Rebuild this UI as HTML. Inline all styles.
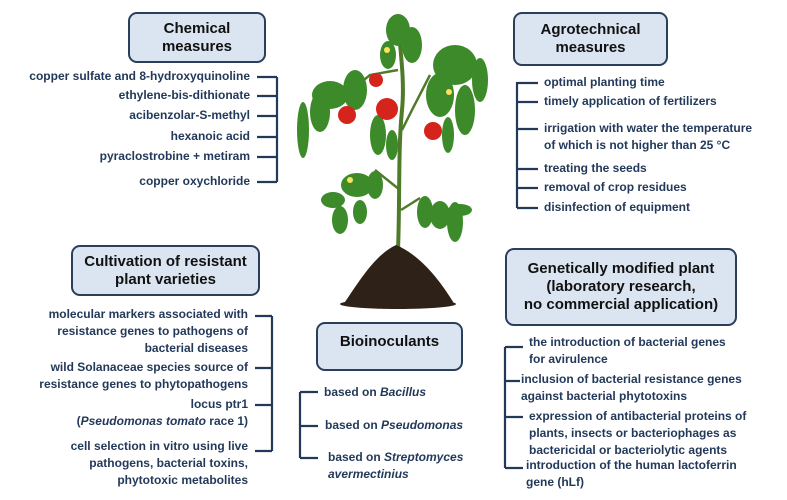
<!DOCTYPE html>
<html><head><meta charset="utf-8"><style>
body{margin:0;width:787px;height:500px;background:#fff;position:relative;overflow:hidden;font-family:"Liberation Sans",Arial,sans-serif}
.box{position:absolute;background:#dbe5f1;border:2px solid #2b3f5c;border-radius:9px;box-sizing:border-box;display:flex;align-items:center;justify-content:center;text-align:center;font-weight:bold;font-size:15px;line-height:18px;color:#111}
.t{position:absolute;font-weight:bold;font-size:12px;line-height:17px;color:#23395a;white-space:nowrap}
.r{text-align:right}
</style></head><body>
<svg width="787" height="500" style="position:absolute;left:0;top:0">
<g stroke="#23395a" stroke-width="2.2" fill="none">
<path d="M277 77V182M257 77H277M257 96H277M257 116H277M257 137H277M257 157H277M257 182H277"/>
<path d="M517 82V208M517 83H538M517 102H538M517 129H538M517 169H538M517 188H538M517 208H538"/>
<path d="M272 316V451M255 316H272M255 368H272M255 405H272M255 451H272"/>
<path d="M300 392V458M300 392H318M300 426H318M300 458H318"/>
<path d="M505 347V468M505 347H523M505 381H520M505 417H523M505 468H523"/>
</g>
<!-- plant -->
<g>
<path d="M398 250 C400 200 398 150 402 110 C405 80 400 50 398 20" stroke="#4e7a2a" stroke-width="4" fill="none"/>
<path d="M400 190 L375 170 M401 210 L420 198 M402 130 L412 110 L430 75 M398 70 L370 75 L345 95" stroke="#4e7a2a" stroke-width="2.5" fill="none"/>
<g fill="#3d8a2a">
<!-- top cluster -->
<ellipse cx="398" cy="30" rx="12" ry="16"/><ellipse cx="412" cy="45" rx="10" ry="18"/><ellipse cx="388" cy="55" rx="8" ry="14"/>
<!-- left cluster -->
<ellipse cx="330" cy="95" rx="18" ry="14"/><ellipse cx="355" cy="90" rx="12" ry="20"/><ellipse cx="303" cy="130" rx="6" ry="28"/>
<ellipse cx="320" cy="112" rx="10" ry="20"/>
<!-- right cluster -->
<ellipse cx="455" cy="65" rx="22" ry="20"/><ellipse cx="480" cy="80" rx="8" ry="22"/><ellipse cx="440" cy="95" rx="14" ry="22"/>
<ellipse cx="465" cy="110" rx="10" ry="25"/><ellipse cx="448" cy="135" rx="6" ry="18"/>
<!-- mid -->
<ellipse cx="378" cy="135" rx="8" ry="20"/><ellipse cx="392" cy="145" rx="6" ry="15"/>
<!-- lower left -->
<ellipse cx="357" cy="185" rx="16" ry="12"/><ellipse cx="333" cy="200" rx="12" ry="8"/><ellipse cx="340" cy="220" rx="8" ry="14"/>
<ellipse cx="360" cy="212" rx="7" ry="12"/><ellipse cx="375" cy="185" rx="8" ry="14"/>
<!-- lower right -->
<ellipse cx="425" cy="212" rx="8" ry="16"/><ellipse cx="440" cy="215" rx="10" ry="14"/><ellipse cx="455" cy="222" rx="8" ry="20"/><ellipse cx="460" cy="210" rx="12" ry="6"/>
</g>
<g fill="#fce45a"><circle cx="387" cy="50" r="3"/><circle cx="449" cy="92" r="3"/><circle cx="350" cy="180" r="3"/></g>
<g fill="#d4241c"><circle cx="347" cy="115" r="9"/><circle cx="376" cy="80" r="7"/><circle cx="387" cy="109" r="11"/><circle cx="433" cy="131" r="9"/></g>
<path d="M343 305 C360 280 375 255 396 245 C420 255 440 280 455 305 Z" fill="#2e2118"/>
<ellipse cx="398" cy="304" rx="58" ry="5" fill="#2e2118"/>
</g>
</svg>
<div class="box" style="left:128px;top:12px;width:138px;height:51px">Chemical<br>measures</div>
<div class="box" style="left:513px;top:12px;width:155px;height:54px">Agrotechnical<br>measures</div>
<div class="box" style="left:71px;top:245px;width:189px;height:51px">Cultivation of resistant<br>plant varieties</div>
<div class="box" style="left:316px;top:322px;width:147px;height:49px;align-items:flex-start;padding-top:9px">Bioinoculants</div>
<div class="box" style="left:505px;top:248px;width:232px;height:78px">Genetically modified plant<br>(laboratory research,<br>no commercial application)</div>

<div class="t r" style="right:537px;top:68px">copper sulfate and 8-hydroxyquinoline</div>
<div class="t r" style="right:537px;top:87px">ethylene-bis-dithionate</div>
<div class="t r" style="right:537px;top:107px">acibenzolar-S-methyl</div>
<div class="t r" style="right:537px;top:128px">hexanoic acid</div>
<div class="t r" style="right:537px;top:148px">pyraclostrobine + metiram</div>
<div class="t r" style="right:537px;top:173px">copper oxychloride</div>

<div class="t" style="left:544px;top:74px">optimal planting time</div>
<div class="t" style="left:544px;top:93px">timely application of fertilizers</div>
<div class="t" style="left:544px;top:120px">irrigation with water the temperature<br>of which is not higher than 25 °C</div>
<div class="t" style="left:544px;top:160px">treating the seeds</div>
<div class="t" style="left:544px;top:179px">removal of crop residues</div>
<div class="t" style="left:544px;top:199px">disinfection of equipment</div>

<div class="t r" style="right:539px;top:306px">molecular markers associated with<br>resistance genes to pathogens of<br>bacterial diseases</div>
<div class="t r" style="right:539px;top:359px">wild Solanaceae species source of<br>resistance genes to phytopathogens</div>
<div class="t r" style="right:539px;top:396px">locus ptr1<br>(<i>Pseudomonas tomato</i> race 1)</div>
<div class="t r" style="right:539px;top:438px">cell selection in vitro using live<br>pathogens, bacterial toxins,<br>phytotoxic metabolites</div>

<div class="t" style="left:324px;top:384px">based on <i>Bacillus</i></div>
<div class="t" style="left:325px;top:417px">based on <i>Pseudomonas</i></div>
<div class="t" style="left:328px;top:449px">based on <i>Streptomyces</i><br><i>avermectinius</i></div>

<div class="t" style="left:529px;top:334px">the introduction of bacterial genes<br>for avirulence</div>
<div class="t" style="left:521px;top:371px">inclusion of bacterial resistance genes<br>against bacterial phytotoxins</div>
<div class="t" style="left:529px;top:408px">expression of antibacterial proteins of<br>plants, insects or bacteriophages as<br>bactericidal or bacteriolytic agents</div>
<div class="t" style="left:526px;top:457px">introduction of the human lactoferrin<br>gene (hLf)</div>
</body></html>
